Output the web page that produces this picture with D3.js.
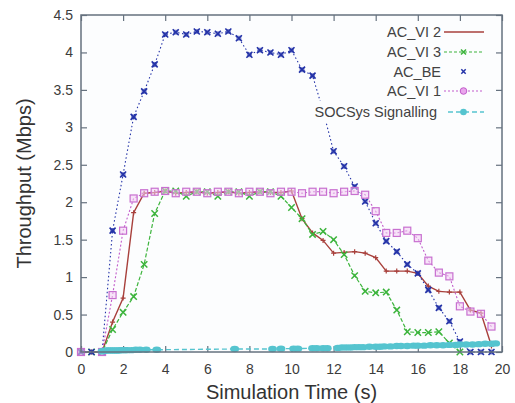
<!DOCTYPE html>
<html>
<head>
<meta charset="utf-8">
<script src="https://cdn.jsdelivr.net/npm/d3@7"></script>
<style>
  html, body { margin: 0; padding: 0; background: #ffffff; }
  svg { display: block; }
  text { font-family: "Liberation Sans", Arial, sans-serif; }
</style>
</head>
<body>
<svg id="chart" width="515" height="403"></svg>
<script>
// Sample times (s) shared by the four traffic classes
const times = [0, 0.5, 1, 1.5, 2, 2.5, 3, 3.5, 4, 4.5, 5, 5.5, 6, 6.5, 7, 7.5, 8, 8.5, 9, 9.5,
               10, 10.5, 11, 11.5, 12, 12.5, 13, 13.5, 14, 14.5, 15, 15.5, 16, 16.5, 17, 17.5, 18, 18.5, 19, 19.5];

// Throughput (Mbps) per class; null = no sample
const acVI2 = [0, 0, 0, 0.40, 0.72, 1.86, 2.12, 2.13, 2.15, 2.12, 2.13, 2.14, 2.12, 2.13, 2.14, 2.12, 2.13, 2.14, 2.13, 2.13,
               2.15, 1.78, 1.59, 1.49, 1.32, 1.33, 1.34, 1.32, 1.26, 1.08, 1.08, 1.08, 1.05, 0.88, 0.81, 0.80, 0.80, 0.56, 0.52, 0.08];
const acVI3 = [0, 0, 0, 0.30, 0.53, 0.74, 1.17, 1.85, 2.15, 2.15, 2.08, 2.14, 2.14, 2.08, 2.14, 2.14, 2.08, 2.14, 2.14, 2.08,
               1.93, 1.78, 1.57, 1.61, 1.50, 1.30, 1.02, 0.81, 0.79, 0.80, 0.56, 0.27, 0.26, 0.26, 0.27, 0.12, 0.0, null, null, null];
const acBE  = [0, 0, 0, 1.62, 2.37, 3.14, 3.48, 3.84, 4.24, 4.27, 4.24, 4.28, 4.27, 4.25, 4.28, 4.19, 3.97, 4.03, 4.00, 3.97,
               4.03, 3.77, 3.69, 3.22, 2.68, 2.48, 2.21, 2.01, 1.72, 1.48, 1.34, 1.17, 1.05, 0.83, 0.59, 0.41, 0.14, 0, 0, 0];
const acVI1 = [0, null, 0, 0.76, 1.62, 2.05, 2.12, 2.14, 2.15, 2.12, 2.14, 2.14, 2.12, 2.14, 2.14, 2.12, 2.14, 2.14, 2.12, 2.14,
               2.14, 2.12, 2.14, 2.14, 2.12, 2.14, 2.15, 2.10, 1.88, 1.59, 1.59, 1.62, 1.52, 1.22, 1.06, 1.01, 0.61, 0.54, 0.51, 0.34];

// Signalling traffic is logged on its own time base
const socTimes = [1.0, 1.1, 1.2, 1.3, 1.4, 1.5, 1.6, 1.7, 1.8, 1.9, 2.0, 2.1, 2.2, 2.4, 2.6, 2.8, 3.1, 3.6, 7.3, 9.1,
                  9.5, 10.1, 10.3, 11.0, 11.2, 11.5, 11.7, 12.2, 12.4, 12.6, 12.8, 13.0, 13.2, 13.4, 13.7, 14.0, 14.2, 14.4, 14.7, 15.0,
                  15.2, 15.5, 15.8, 16.0, 16.3, 16.6, 16.9, 17.2, 17.5, 17.8, 18.0, 18.3, 18.6, 18.9, 19.2, 19.5, 19.7];
const socSig   = [0.010, 0.015, 0.020, 0.020, 0.020, 0.020, 0.020, 0.020, 0.020, 0.025, 0.025, 0.025, 0.025, 0.025, 0.030, 0.030, 0.030, 0.030, 0.040, 0.040,
                  0.045, 0.045, 0.045, 0.050, 0.050, 0.050, 0.050, 0.055, 0.060, 0.060, 0.060, 0.065, 0.065, 0.065, 0.070, 0.070, 0.070, 0.075, 0.075, 0.080,
                  0.080, 0.080, 0.085, 0.085, 0.085, 0.090, 0.090, 0.090, 0.095, 0.095, 0.100, 0.100, 0.100, 0.105, 0.110, 0.110, 0.115];

const xTicks = [0, 2, 4, 6, 8, 10, 12, 14, 16, 18, 20];
const yTicks = [0, 0.5, 1, 1.5, 2, 2.5, 3, 3.5, 4, 4.5];
const legendLabels = ["AC_VI 2", "AC_VI 3", "AC_BE", "AC_VI 1", "SOCSys Signalling"];

const svg = d3.select("#chart");
const plot = { left: 81, right: 502, top: 15, bottom: 352 };

const x = d3.scaleLinear().domain([0, 20]).range([plot.left, plot.right]);
const y = d3.scaleLinear().domain([0, 4.5]).range([plot.bottom, plot.top]);

const colors = {
  vi2: "#a8403c",
  vi3: "#3cb43c",
  be: "#2433a8",
  vi1: "#c25ccb",
  soc: "#55c4cf"
};

// plot background
svg.append("rect")
  .attr("x", plot.left).attr("y", plot.top)
  .attr("width", plot.right - plot.left).attr("height", plot.bottom - plot.top)
  .attr("fill", "#fcfdfe");

const axisColor = "#66727f";
const tickLen = 6;

// mirrored inward ticks, gnuplot style
const axG = svg.append("g");
axG.append("g")
  .attr("transform", `translate(0,${plot.bottom})`)
  .call(d3.axisBottom(x).tickValues(xTicks).tickSize(-tickLen).tickPadding(12).tickFormat(d3.format("d")));
axG.append("g")
  .attr("transform", `translate(0,${plot.top})`)
  .call(d3.axisTop(x).tickValues(xTicks).tickSize(-tickLen).tickFormat(""));
axG.append("g")
  .attr("transform", `translate(${plot.left},0)`)
  .call(d3.axisLeft(y).tickValues(yTicks).tickSize(-tickLen).tickPadding(8).tickFormat(d => d3.format("")(d)));
axG.append("g")
  .attr("transform", `translate(${plot.right},0)`)
  .call(d3.axisRight(y).tickValues(yTicks).tickSize(-tickLen).tickFormat(""));
axG.selectAll(".domain").remove();
axG.selectAll(".tick line").attr("stroke", axisColor).attr("stroke-width", 1.2);
axG.selectAll(".tick text")
  .attr("fill", "#3c3c3c")
  .style("font-size", "14px")
  .style("font-family", "'Liberation Sans', Arial, sans-serif");

// series helpers
function pts(ts, vs) {
  return ts.map((t, i) => ({ t, v: vs[i] })).filter(d => d.v !== null && d.v !== undefined);
}
const line = d3.line().x(d => x(d.t)).y(d => y(d.v));

function drawLine(data, color, width, dash) {
  svg.append("path")
    .datum(data)
    .attr("fill", "none")
    .attr("stroke", color)
    .attr("stroke-width", width)
    .attr("stroke-dasharray", dash)
    .attr("d", line);
}

function crossMarks(g, data, color, s, w) {
  g.selectAll(null).data(data).enter().append("path")
    .attr("d", d => {
      const cx = x(d.t), cy = y(d.v);
      return `M${cx - s},${cy - s}L${cx + s},${cy + s}M${cx - s},${cy + s}L${cx + s},${cy - s}`;
    })
    .attr("stroke", color).attr("stroke-width", w).attr("fill", "none");
}

// AC_VI 2
const dVI2 = pts(times, acVI2);
drawLine(dVI2, colors.vi2, 1.4, null);
const gVI2 = svg.append("g");
gVI2.selectAll(null).data(dVI2).enter().append("path")
  .attr("d", d => { const cx = x(d.t), cy = y(d.v); return `M${cx - 2.5},${cy}L${cx + 2.5},${cy}M${cx},${cy - 2.5}L${cx},${cy + 2.5}`; })
  .attr("stroke", colors.vi2).attr("stroke-width", 1.2);

// AC_VI 3
const dVI3 = pts(times, acVI3);
drawLine(dVI3, colors.vi3, 1.2, "4,2");
crossMarks(svg.append("g"), dVI3, colors.vi3, 3.2, 1.5);

// AC_BE
const dBE = pts(times, acBE);
drawLine(dBE, colors.be, 1.1, "1.5,2.5");
const gBE = svg.append("g");
gBE.selectAll(null).data(dBE).enter().append("rect")
  .attr("x", d => x(d.t) - 2.5).attr("y", d => y(d.v) - 2.5)
  .attr("width", 5).attr("height", 5)
  .attr("fill", colors.be).attr("fill-opacity", 0.55);
crossMarks(gBE, dBE, colors.be, 3, 1.6);

// AC_VI 1
const dVI1 = pts(times, acVI1);
drawLine(dVI1, colors.vi1, 1.1, "2,2");
svg.append("g").selectAll(null).data(dVI1).enter().append("rect")
  .attr("x", d => x(d.t) - 3.5).attr("y", d => y(d.v) - 3.5)
  .attr("width", 7).attr("height", 7)
  .attr("fill", "#f2cdf3").attr("fill-opacity", 0.55)
  .attr("stroke", "#c870d0").attr("stroke-width", 1.2);

// SOCSys Signalling
const dSOC = pts(socTimes, socSig);
drawLine(dSOC, colors.soc, 1.4, "5,3");
svg.append("g").selectAll(null).data(dSOC).enter().append("ellipse")
  .attr("cx", d => x(d.t)).attr("cy", d => y(d.v))
  .attr("rx", 4.4).attr("ry", 3.2)
  .attr("fill", colors.soc);

// frame
svg.append("rect")
  .attr("x", plot.left).attr("y", plot.top)
  .attr("width", plot.right - plot.left).attr("height", plot.bottom - plot.top)
  .attr("fill", "none").attr("stroke", axisColor).attr("stroke-width", 1.5);

// key
const key = svg.append("g");
const rowsY = [32, 52, 71.5, 91, 112];
const textEnd = [441, 441, 441, 441, 437];
const sx0 = 444, sx1 = 484, smid = 463.5;

// opaque patch behind the long label
key.append("rect").attr("x", 308).attr("y", 101).attr("width", 131).attr("height", 22).attr("fill", "#fcfdfe");

legendLabels.forEach((lab, i) => {
  key.append("text")
    .attr("x", textEnd[i]).attr("y", rowsY[i] + 5.3)
    .attr("text-anchor", "end")
    .attr("fill", "#424242")
    .style("font-size", "14.5px")
    .text(lab);
});
// AC_VI 2 sample
key.append("line").attr("x1", sx0).attr("x2", sx1).attr("y1", rowsY[0]).attr("y2", rowsY[0])
  .attr("stroke", colors.vi2).attr("stroke-width", 1.5);
// AC_VI 3 sample
key.append("line").attr("x1", sx0).attr("x2", sx1).attr("y1", rowsY[1]).attr("y2", rowsY[1])
  .attr("stroke", colors.vi3).attr("stroke-width", 1.2).attr("stroke-dasharray", "3,2");
crossMarks(key, [{ t: x.invert(smid), v: y.invert(rowsY[1]) }], colors.vi3, 2.5, 1.5);
// AC_BE sample (points only)
crossMarks(key, [{ t: x.invert(smid), v: y.invert(rowsY[2]) }], colors.be, 2.2, 1.5);
// AC_VI 1 sample
key.append("line").attr("x1", sx0).attr("x2", sx1).attr("y1", rowsY[3]).attr("y2", rowsY[3])
  .attr("stroke", colors.vi1).attr("stroke-width", 1.1).attr("stroke-dasharray", "2,2");
key.append("circle").attr("cx", smid).attr("cy", rowsY[3]).attr("r", 3.3)
  .attr("fill", "#e9a6ec").attr("stroke", colors.vi1).attr("stroke-width", 1);
// SOCSys sample
key.append("line").attr("x1", sx0 + 4).attr("x2", sx1).attr("y1", rowsY[4]).attr("y2", rowsY[4])
  .attr("stroke", colors.soc).attr("stroke-width", 1.3).attr("stroke-dasharray", "5,3");
key.append("circle").attr("cx", smid).attr("cy", rowsY[4]).attr("r", 3.3).attr("fill", colors.soc);

// axis titles
svg.append("text")
  .attr("x", (plot.left + plot.right) / 2).attr("y", 399)
  .attr("text-anchor", "middle")
  .attr("fill", "#333333")
  .style("font-size", "20px")
  .text("Simulation Time (s)");
svg.append("text")
  .attr("transform", `translate(30.5,${(plot.top + plot.bottom) / 2}) rotate(-90)`)
  .attr("text-anchor", "middle")
  .attr("fill", "#333333")
  .style("font-size", "20px")
  .text("Throughput (Mbps)");
</script>
</body>
</html>
